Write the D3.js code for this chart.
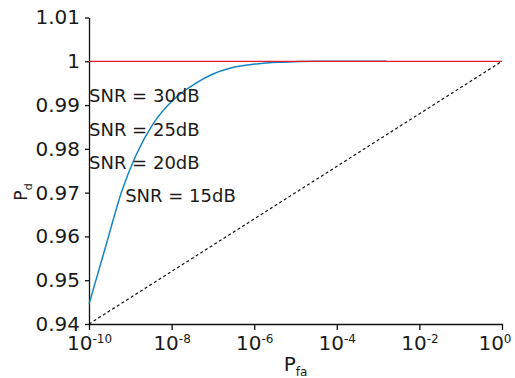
<!DOCTYPE html>
<html>
<head>
<meta charset="utf-8">
<script src="https://cdn.jsdelivr.net/npm/d3@7"></script>
<style>
  body { margin: 0; background: #fff; }
  text { font-family: "DejaVu Sans", sans-serif; fill: #1a1a1a; }
</style>
</head>
<body>
<svg id="chart" width="515" height="378"></svg>
<script>
// ROC curve: probability of detection vs probability of false alarm
const pfaExponents = [-10, -9.6, -9.2, -8.86, -8.42, -7.97, -7.41, -7.0, -6.59, -5.94, -5.3, -4.5, -3.6, -2.8];
const pdValues     = [0.9445, 0.9576, 0.9705, 0.9786, 0.9861, 0.9911, 0.9950, 0.9971, 0.9984, 0.9994, 0.9998, 1.0, 1.0, 1.0];

// ideal detector (Pd = 1) and chance reference line
const idealPfa = [1e-10, 1];
const idealPd  = [1, 1];
const chancePfa = [1e-10, 1];
const chancePd  = [0.94, 1];

// axis ticks
const xTicks = [1e-10, 1e-8, 1e-6, 1e-4, 1e-2, 1];
const xTickExponents = ["-10", "-8", "-6", "-4", "-2", "0"];
const yTicks = [0.94, 0.95, 0.96, 0.97, 0.98, 0.99, 1.0, 1.01];
const yTickLabels = ["0.94", "0.95", "0.96", "0.97", "0.98", "0.99", "1", "1.01"];

// SNR annotations (data coordinates)
const snrLabels = ["SNR = 30dB", "SNR = 25dB", "SNR = 20dB", "SNR = 15dB"];
const snrLabelPfa = [1e-10, 1e-10, 1e-10, 7.5e-10];
const snrLabelPd  = [0.9922, 0.9844, 0.9769, 0.9694];

const width = 515, height = 378;
const margin = { top: 17.5, right: 13, bottom: 54, left: 89 };

const svg = d3.select("#chart");
svg.append("rect").attr("width", width).attr("height", height).attr("fill", "#fff");

const x = d3.scaleLog().domain([1e-10, 1]).range([margin.left, width - margin.right]);
const y = d3.scaleLinear().domain([0.94, 1.01]).range([height - margin.bottom, margin.top]);

// axes
const yAxis = svg.append("g")
  .attr("transform", `translate(${margin.left},0)`)
  .call(d3.axisLeft(y).tickValues(yTicks).tickSize(4).tickSizeOuter(0).tickPadding(5)
    .tickFormat((d, i) => yTickLabels[i]));
yAxis.selectAll("text").style("font-size", "20px").attr("fill", "#1a1a1a");

const xAxis = svg.append("g")
  .attr("transform", `translate(0,${height - margin.bottom})`)
  .call(d3.axisBottom(x).tickValues(xTicks).tickSize(6).tickSizeOuter(0).tickFormat(""));

xAxis.selectAll("g.tick").each(function (d, i) {
  const t = d3.select(this).append("text")
    .attr("y", 26)
    .attr("text-anchor", "middle")
    .attr("fill", "#1a1a1a");
  t.append("tspan").style("font-size", "20px").text("10");
  t.append("tspan").style("font-size", "12px").attr("dy", -7).text(xTickExponents[i]);
  // keep the last label inside the drawing area
  const w = t.node().getComputedTextLength();
  const overflow = x(d) + w / 2 - (width - 4);
  if (overflow > 0) t.attr("x", -overflow);
});

svg.selectAll(".domain, .tick line").attr("stroke", "#111").attr("stroke-width", 1.3);

// curves
const line = d3.line().x(d => x(d[0])).y(d => y(d[1]));

svg.append("path")
  .datum(chancePfa.map((p, i) => [p, chancePd[i]]))
  .attr("d", line)
  .attr("fill", "none")
  .attr("stroke", "#111")
  .attr("stroke-width", 1.2)
  .attr("stroke-dasharray", "3,2.5");

svg.append("path")
  .datum(pfaExponents.map((e, i) => [Math.pow(10, e), pdValues[i]]))
  .attr("d", d3.line().x(d => x(d[0])).y(d => y(d[1])).curve(d3.curveMonotoneX))
  .attr("fill", "none")
  .attr("stroke", "#1186c4")
  .attr("stroke-width", 1.5);

svg.append("path")
  .datum(idealPfa.map((p, i) => [p, idealPd[i]]))
  .attr("d", line)
  .attr("fill", "none")
  .attr("stroke", "#e41e26")
  .attr("stroke-width", 1.2);

// annotations
svg.append("g").selectAll("text")
  .data(snrLabels)
  .join("text")
  .attr("x", (d, i) => x(snrLabelPfa[i]))
  .attr("y", (d, i) => y(snrLabelPd[i]))
  .attr("dy", "0.36em")
  .style("font-size", "18px")
  .text(d => d);

// axis titles
const xt = svg.append("text")
  .attr("x", (margin.left + width - margin.right) / 2)
  .attr("y", 371)
  .attr("text-anchor", "middle");
xt.append("tspan").style("font-size", "20px").text("P");
xt.append("tspan").style("font-size", "12px").attr("dy", 5).text("fa");

const yt = svg.append("text")
  .attr("transform", "translate(27,192) rotate(-90)")
  .attr("text-anchor", "middle");
yt.append("tspan").style("font-size", "17px").text("P");
yt.append("tspan").style("font-size", "11px").attr("dy", 5).text("d");
</script>
</body>
</html>
